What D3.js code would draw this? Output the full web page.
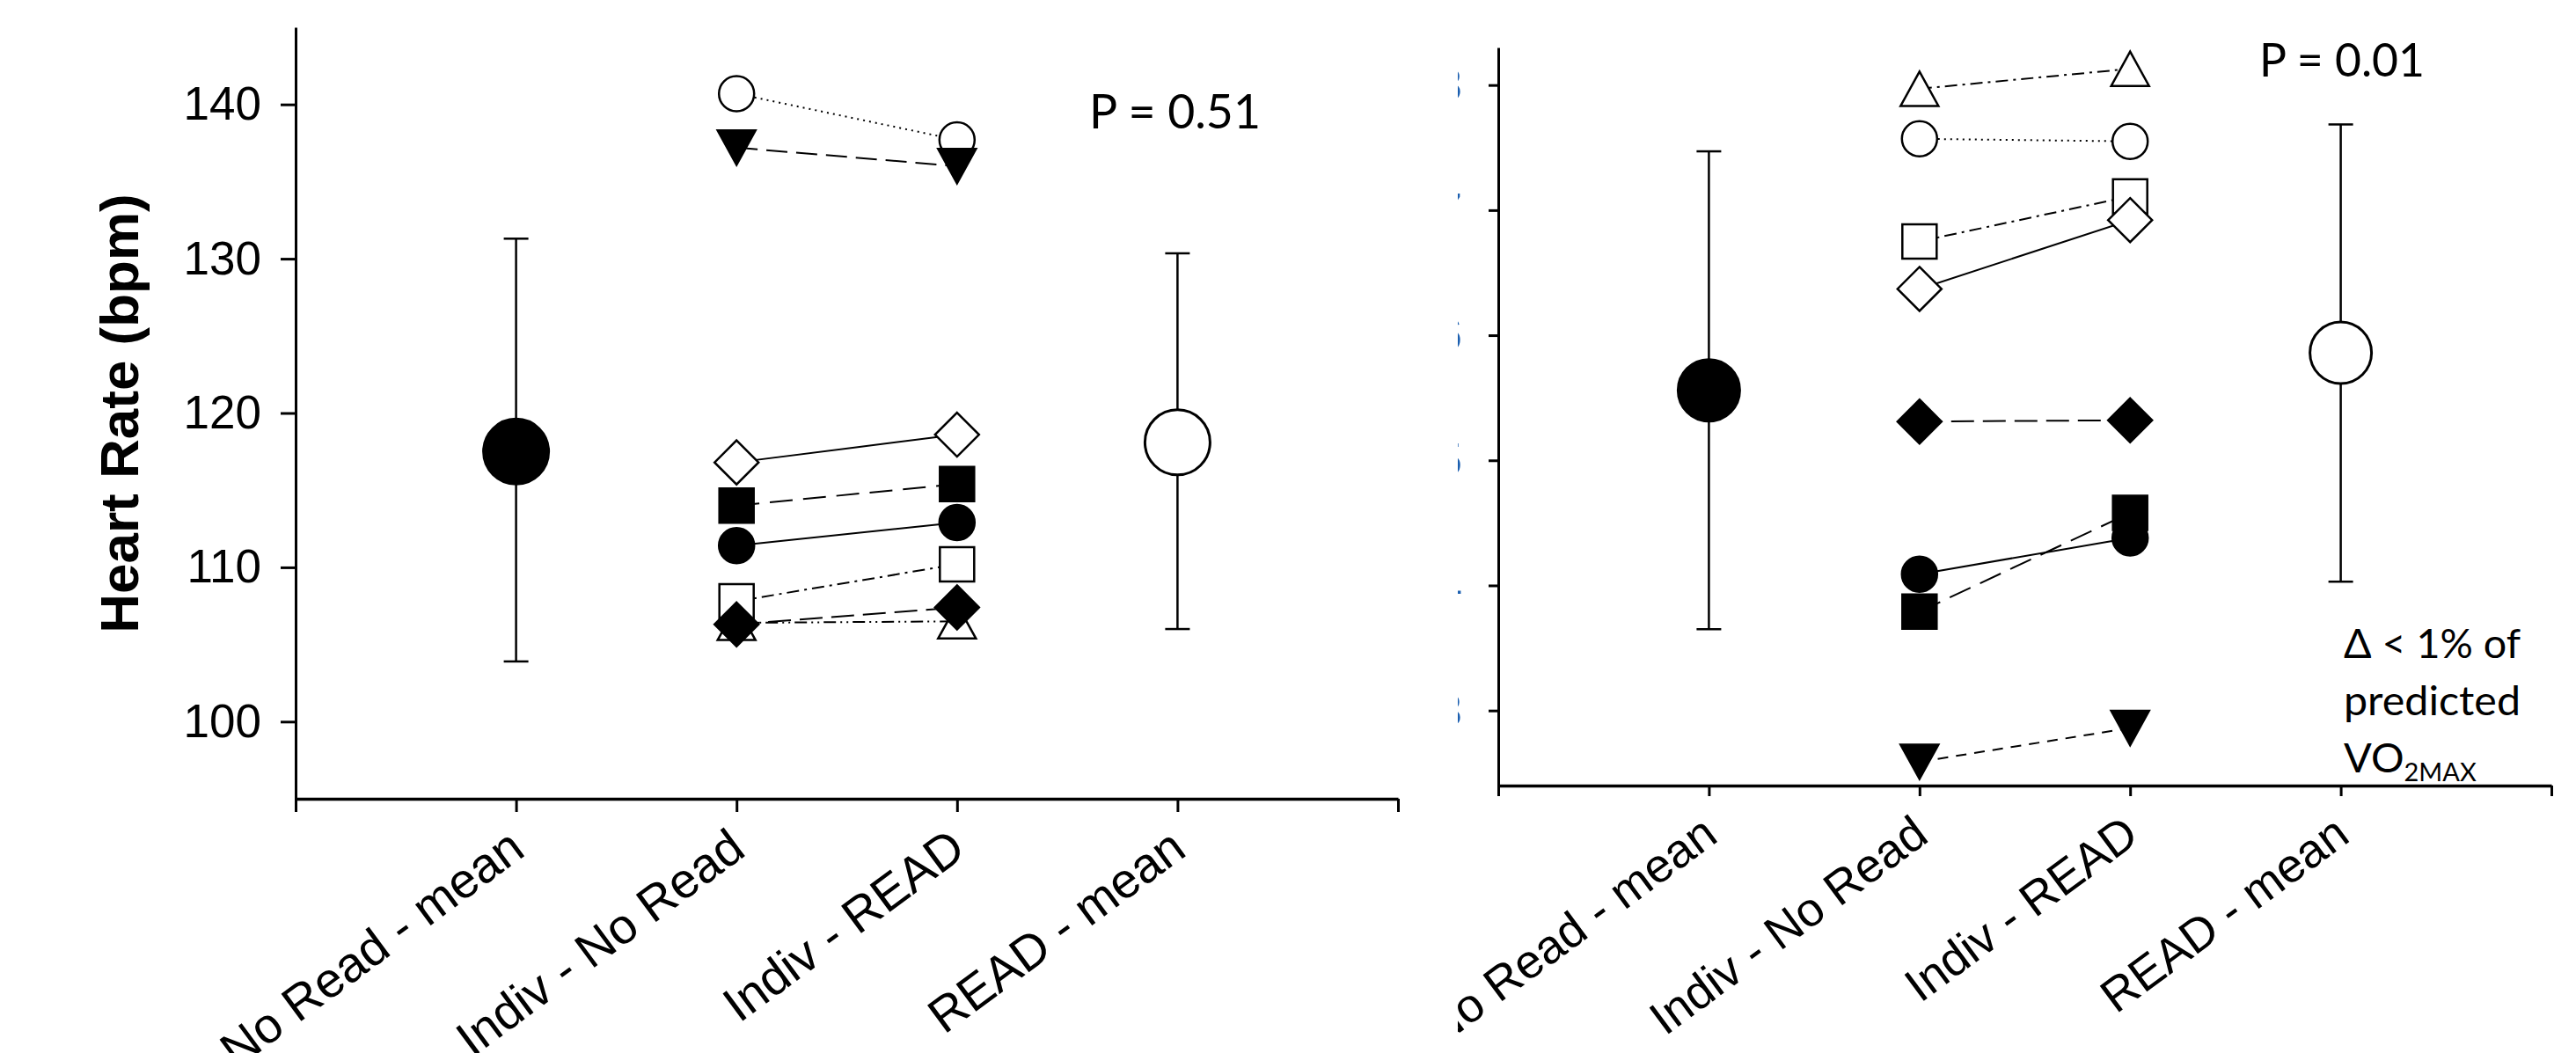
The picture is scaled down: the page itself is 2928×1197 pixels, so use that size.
<!DOCTYPE html>
<html><head><meta charset="utf-8">
<script src="https://cdn.jsdelivr.net/npm/d3@7"></script>
<style>body{margin:0;background:#fff}</style>
</head><body>
<script>
// ---------------- DATA ----------------
const categories = ["No Read - mean", "Indiv - No Read", "Indiv - READ", "READ - mean"];
const categoryPositions = [1, 2, 3, 4];
// one entry per participant (symbol identifies the participant)
const subjectSymbols = ["openTriangle", "openCircle", "openSquare", "openDiamond",
                        "filledCircle", "filledSquare", "filledDiamond", "filledTriangleDown"];

// Left panel: heart rate (bpm)
const hrTicks = [100, 110, 120, 130, 140];
const hrNoRead = [106.4, 140.7, 107.8, 116.8, 111.4, 114.0, 106.3, 137.2];
const hrRead   = [106.5, 137.7, 110.2, 118.6, 112.9, 115.4, 107.4, 136.0];
const hrMeans   = [117.5, 118.1];   // No Read mean, READ mean
const hrErrLow  = [103.9, 106.0];
const hrErrHigh = [131.3, 130.35];
const hrP = "P = 0.51";

// Right panel: VO2 (tick labels cropped in the original; only their last digits' edges show)
const voTicks = [3, 4, 5, 6, 7, 8];
const voNoRead = [7.97, 7.57, 6.75, 6.37, 4.09, 3.79, 5.31, 2.59];
const voRead   = [8.13, 7.55, 7.11, 6.92, 4.38, 4.58, 5.32, 2.86];
const voMeans   = [5.56, 5.86];
const voErrLow  = [3.65, 4.03];
const voErrHigh = [7.47, 7.685];
const voP = "P = 0.01";
const voNote = ["Δ < 1% of", "predicted", "VO", "2MAX"];

// ---------------- STYLES ----------------
const dashLeft = {
  openTriangle: "14,5,2,5,2,5", openCircle: "2,5", openSquare: "14,6,3,6", openDiamond: null,
  filledCircle: null, filledSquare: "26,12", filledDiamond: "26,10", filledTriangleDown: "24,10"
};
const dashRight = {
  openTriangle: "14,6,3,6", openCircle: "2,5", openSquare: "14,6,3,6", openDiamond: null,
  filledCircle: null, filledSquare: "26,12", filledDiamond: "26,10", filledTriangleDown: "12,9"
};

function symbolPath(type) {
  switch (type) {
    case "openTriangle": return "M0,-19.5L21.5,19.5L-21.5,19.5Z";
    case "filledTriangleDown": return "M-21.5,-19.5L21.5,-19.5L0,19.5Z";
    case "openSquare": case "filledSquare": return "M-19.5,-19.5H19.5V19.5H-19.5Z";
    case "openDiamond": case "filledDiamond": return "M0,-25L25,0L0,25L-25,0Z";
    default: return "M-20,0A20,20 0 1,0 20,0A20,20 0 1,0 -20,0Z";
  }
}
const isFilled = t => t.startsWith("filled");

const W = 2928, H = 1197;
const svg = d3.select("body").append("svg").attr("width", W).attr("height", H)
  .style("display", "block").style("background", "#fff");

svg.append("defs").append("clipPath").attr("id", "rightClip")
  .append("rect").attr("x", 1657).attr("y", 0).attr("width", W - 1657).attr("height", H);

function drawPanel(g, cfg) {
  const x = d3.scaleLinear().domain([0, 5]).range(cfg.xRange);
  const y = d3.scaleLinear().domain(cfg.yDomain).range(cfg.yRange);

  // axes
  const yAxis = d3.axisLeft(y).tickValues(cfg.ticks).tickSize(cfg.yTickSize)
    .tickSizeOuter(0).tickPadding(cfg.yTickPad).tickFormat(d3.format("d"));
  const ya = g.append("g").attr("transform", `translate(${cfg.xRange[0]},0)`).call(yAxis);
  ya.select(".domain").attr("stroke-width", 3).attr("stroke", "#000");
  ya.selectAll(".tick line").attr("stroke-width", 3).attr("stroke", "#000");
  ya.selectAll("text").attr("font-family", "Liberation Sans, Arial, sans-serif")
    .attr("font-size", cfg.yFontSize).attr("fill", cfg.yLabelColor);

  const xAxis = d3.axisBottom(x).tickValues([0, 1, 2, 3, 4, 5]).tickSize(cfg.xTickSize)
    .tickSizeOuter(0).tickFormat(d => (d >= 1 && d <= 4) ? categories[categoryPositions.indexOf(d)] : "");
  const xa = g.append("g").attr("transform", `translate(0,${cfg.yRange[0]})`).call(xAxis);
  xa.select(".domain").attr("stroke-width", 3.5).attr("stroke", "#000");
  xa.selectAll(".tick line").attr("stroke-width", 3).attr("stroke", "#000");
  xa.selectAll("text").attr("font-family", "Liberation Sans, Arial, sans-serif")
    .attr("font-size", cfg.xFontSize).attr("fill", "#000")
    .attr("text-anchor", "end").attr("x", 0).attr("y", 0).attr("dy", null)
    .attr("transform", `translate(12,${cfg.xLabelDy}) rotate(-36.5)`);

  // connecting lines for individuals
  const lines = g.append("g");
  subjectSymbols.forEach((s, i) => {
    lines.append("line")
      .attr("x1", x(categoryPositions[1])).attr("y1", y(cfg.noRead[i]))
      .attr("x2", x(categoryPositions[2])).attr("y2", y(cfg.read[i]))
      .attr("stroke", "#000").attr("stroke-width", 2)
      .attr("stroke-dasharray", cfg.dash[s]);
  });

  // individual symbols
  const syms = g.append("g");
  subjectSymbols.forEach((s, i) => {
    [[categoryPositions[1], cfg.noRead[i]], [categoryPositions[2], cfg.read[i]]].forEach(([cx, v]) => {
      syms.append("path").attr("d", symbolPath(s))
        .attr("transform", `translate(${x(cx)},${y(v)})`)
        .attr("fill", isFilled(s) ? "#000" : "#fff")
        .attr("stroke", "#000").attr("stroke-width", 2.5);
    });
  });

  // means with error bars
  const meanPos = [categoryPositions[0], categoryPositions[3]];
  meanPos.forEach((cx, i) => {
    const px = x(cx);
    const mg = g.append("g");
    mg.append("line").attr("x1", px).attr("x2", px)
      .attr("y1", y(cfg.errLow[i])).attr("y2", y(cfg.errHigh[i]))
      .attr("stroke", "#000").attr("stroke-width", 2.5);
    [cfg.errLow[i], cfg.errHigh[i]].forEach(v => {
      mg.append("line").attr("x1", px - 14).attr("x2", px + 14)
        .attr("y1", y(v)).attr("y2", y(v)).attr("stroke", "#000").attr("stroke-width", 2.5);
    });
    mg.append("circle").attr("cx", px).attr("cy", y(cfg.means[i])).attr("r", cfg.meanR)
      .attr("fill", i === 0 ? "#000" : "#fff").attr("stroke", "#000").attr("stroke-width", 3);
  });
  return {x, y};
}

// Left panel
const left = svg.append("g");
drawPanel(left, {
  xRange: [336, 1589], yDomain: [95, 145], yRange: [908, 31], ticks: hrTicks,
  yTickSize: 17, yTickPad: 22, xTickSize: 15, xLabelDy: 63, yFontSize: 53, xFontSize: 56,
  yLabelColor: "#000",
  noRead: hrNoRead, read: hrRead, means: hrMeans, errLow: hrErrLow, errHigh: hrErrHigh,
  dash: dashLeft, meanR: 37
});
left.append("text").attr("transform", "translate(157,470) rotate(-90)")
  .attr("text-anchor", "middle").attr("font-family", "Liberation Sans, Arial, sans-serif")
  .attr("font-weight", "bold").attr("font-size", 62).text("Heart Rate (bpm)");
left.append("text").attr("x", 1238).attr("y", 146)
  .attr("font-family", "Lato, Carlito, sans-serif").attr("font-size", 54)
  .attr("textLength", 195).attr("lengthAdjust", "spacingAndGlyphs").text(hrP);

// Right panel (cropped on its left side in the original)
const right = svg.append("g").attr("clip-path", "url(#rightClip)");
drawPanel(right, {
  xRange: [1703, 2900], yDomain: [2.4, 8.3], yRange: [893, 54], ticks: voTicks,
  yTickSize: 11, yTickPad: 30, xTickSize: 12, xLabelDy: 62, yFontSize: 52, xFontSize: 54,
  yLabelColor: "#1b5fb0",
  noRead: voNoRead, read: voRead, means: voMeans, errLow: voErrLow, errHigh: voErrHigh,
  dash: dashRight, meanR: 35
});
right.append("text").attr("x", 2568).attr("y", 87)
  .attr("font-family", "Lato, Carlito, sans-serif").attr("font-size", 52)
  .attr("textLength", 188).attr("lengthAdjust", "spacingAndGlyphs").text(voP);
const noteFont = "Lato, Carlito, sans-serif";
right.append("text").attr("x", 2664).attr("y", 748).attr("font-family", noteFont)
  .attr("font-size", 47).attr("textLength", 201).attr("lengthAdjust", "spacingAndGlyphs").text(voNote[0]);
right.append("text").attr("x", 2664).attr("y", 813).attr("font-family", noteFont)
  .attr("font-size", 47).attr("textLength", 201).attr("lengthAdjust", "spacingAndGlyphs").text(voNote[1]);
const vo = right.append("text").attr("x", 2664).attr("y", 878).attr("font-family", noteFont).attr("font-size", 47);
vo.append("tspan").text(voNote[2]);
vo.append("tspan").attr("font-size", 29).attr("dy", 10).text(voNote[3]);
</script>
</body></html>
